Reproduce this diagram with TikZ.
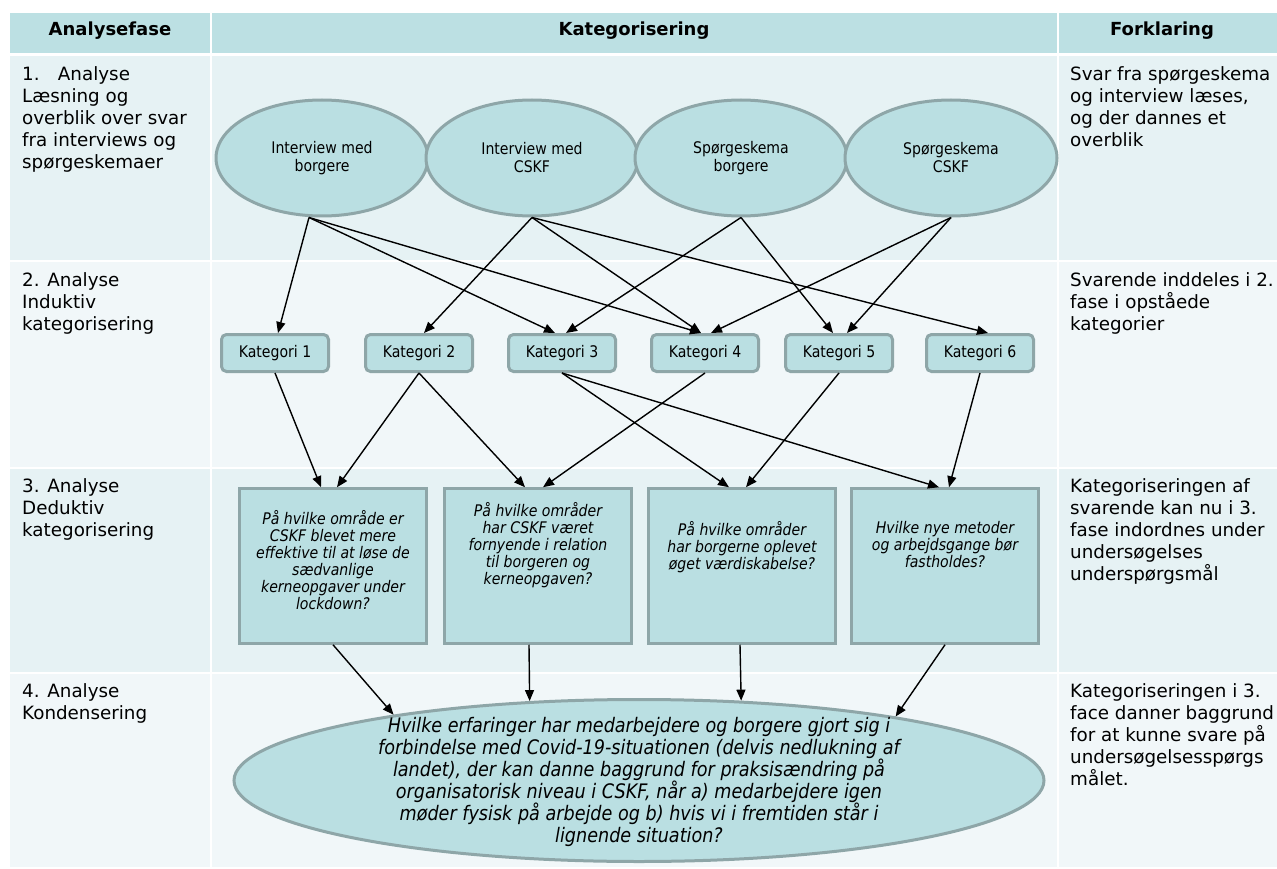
\documentclass[tikz,border=0pt]{standalone}
\usepackage{fontspec}
\setmainfont{DejaVu Sans}
\newfontfamily\narrowfont[FakeStretch=0.88]{DejaVu Sans}
\usetikzlibrary{shapes.geometric,arrows.meta}

\definecolor{headteal}{HTML}{BCE0E3}
\definecolor{rowdark}{HTML}{E6F2F4}
\definecolor{rowlight}{HTML}{F1F7F9}
\definecolor{shapefill}{HTML}{BADFE2}
\definecolor{shapeline}{HTML}{8EA6A8}

\newcommand{\qtext}[2]{\parbox[c][130pt][t]{172pt}{\centering\vspace*{#1}#2}}

\begin{document}
\begin{tikzpicture}[x=1pt,y=-1pt,
    src/.style={ellipse,draw=shapeline,line width=3pt,fill=shapefill,minimum width=212pt,
      minimum height=116pt,align=center,font=\narrowfont\fontsize{16}{18}\selectfont},
    kat/.style={rectangle,rounded corners=5pt,draw=shapeline,line width=3pt,fill=shapefill,
      minimum width=107pt,minimum height=37pt,inner sep=0pt,font=\narrowfont\fontsize{16}{18}\selectfont},
    spm/.style={rectangle,draw=shapeline,line width=2.5pt,fill=shapefill,minimum width=187pt,
      minimum height=155pt,inner sep=0pt,font=\narrowfont\itshape\fontsize{16}{17}\selectfont},
    cell/.style={anchor=north west,inner sep=0pt,align=left,font=\fontsize{18.3}{22}\selectfont},
    head/.style={font=\bfseries\fontsize{18}{22}\selectfont},
    arr/.style={-{Triangle[length=11pt,width=9pt]},line width=1.4pt}]
  \useasboundingbox (0,0) rectangle (1277,869);
  % table background
  \foreach \ya/\yb/\tint in {13/53/headteal,56/260/rowdark,262/467/rowlight,469/672/rowdark,674/867/rowlight}
    \foreach \xa/\xb in {10/210,212/1057,1059/1277}
      \fill[\tint] (\xa,\ya) rectangle (\xb,\yb);
  \node[head] (h1) at (110,31) {Analysefase};
  \node[head] (h2) at (634,31) {Kategorisering};
  \node[head] (h3) at (1162,31) {Forklaring};
  % phases
  \node[cell] (f1) at (22,66) {1.\quad Analyse\\Læsning og\\overblik over svar\\fra interviews og\\spørgeskemaer};
  \node[cell] (f2) at (22,272) {2. Analyse\\Induktiv\\kategorisering};
  \node[cell] (f3) at (22,478) {3. Analyse\\Deduktiv\\kategorisering};
  \node[cell] (f4) at (22,683) {4. Analyse\\Kondensering};
  % explanations
  \node[cell] (r1) at (1070,66) {Svar fra spørgeskema\\og interview læses,\\og der dannes et\\overblik};
  \node[cell] (r2) at (1070,272) {Svarende inddeles i 2.\\fase i opståede\\kategorier};
  \node[cell] (r3) at (1070,478) {Kategoriseringen af\\svarende kan nu i 3.\\fase indordnes under\\undersøgelses\\underspørgsmål};
  \node[cell] (r4) at (1070,683) {Kategoriseringen i 3.\\face danner baggrund\\for at kunne svare på\\undersøgelsesspørgs\\målet.};
  % sources
  \foreach \name/\pos/\txt in {{e1/(322,158)/Interview med\\borgere},{e2/(532,158)/Interview med\\CSKF},
      {e3/(741,158)/Spørgeskema\\borgere},{e4/(951,158)/Spørgeskema\\CSKF}}
    \node[src] (\name) at \pos {\txt};
  % categories
  \foreach \i/\x in {1/275,2/419,3/562,4/705,5/839,6/980}
    \node[kat] (k\i) at (\x,353) {Kategori \i};
  % questions
  \foreach \name/\x/\gap/\txt in {{q1/333/9/På hvilke område er\\CSKF blevet mere\\effektive til at løse de\\sædvanlige\\kerneopgaver under\\lockdown?},
      {q2/538/1/På hvilke områder\\har CSKF været\\fornyende i relation\\til borgeren og\\kerneopgaven?},
      {q3/742/20/På hvilke områder\\har borgerne oplevet\\øget værdiskabelse?},
      {q4/945/20/Hvilke nye metoder\\og arbejdsgange bør\\fastholdes?}}
    \node[spm] (\name) at (\x,566) {\qtext{\gap pt}{\txt}};
  \node[ellipse,draw=shapeline,line width=3pt,fill=shapefill,minimum width=810pt,minimum height=162pt,
      inner sep=0pt,font=\narrowfont\itshape\fontsize{20}{22}\selectfont] (big) at (639,780.5)
    {\makebox[0pt]{\smash{\raisebox{-7pt}{\parbox{600pt}{\centering Hvilke erfaringer har medarbejdere og borgere gjort sig i\\
      forbindelse med Covid-19-situationen (delvis nedlukning af\\landet), der kan danne baggrund for praksisændring på\\
      organisatorisk niveau i CSKF, når a) medarbejdere igen\\møder fysisk på arbejde og b) hvis vi i fremtiden står i\\
      lignende situation?}}}}};
  % connectors
  \foreach \src/\sx/\tgt/\dx in {e1/-13/k1/3,e1/-13/k3/-7,e1/-13/k4/-4,e2/0/k2/5,e2/0/k4/-4,e2/0/k6/8,
      e3/0/k3/4,e3/0/k5/-6,e4/0/k4/6,e4/0/k5/8}
    \draw[arr] ([xshift=\sx pt]\src.south) -- ([xshift=\dx pt]\tgt.north);
  \foreach \src/\tgt/\dx in {k1/q1/-12,k2/q1/4,k2/q2/-13,k3/q3/-13,k3/q4/-6,k4/q2/5,k5/q3/4,k6/q4/4}
    \draw[arr] (\src.south) -- ([xshift=\dx pt]\tgt.north);
  \foreach \src/\sx/\ang in {q1/0/165.3,q2/-9/144.1,q3/-2/38.3,q4/0/14.6}
    \draw[arr] ([xshift=\sx pt]\src.south) -- (big.\ang);
\end{tikzpicture}
\end{document}
